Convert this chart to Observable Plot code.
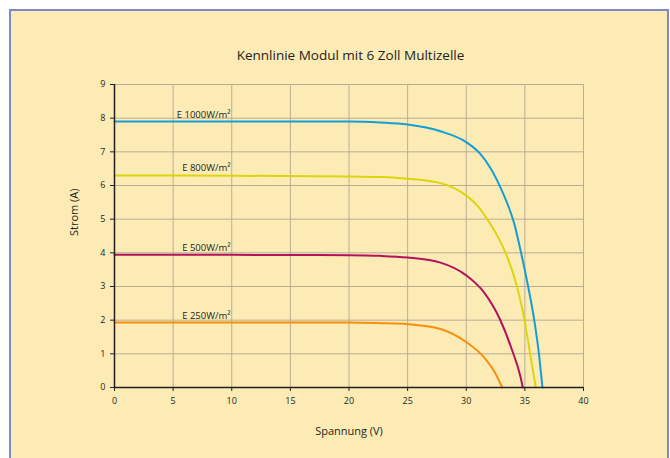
<!DOCTYPE html>
<html>
<head>
<meta charset="utf-8">
<script src="https://cdn.jsdelivr.net/npm/d3@7"></script>
<script src="https://cdn.jsdelivr.net/npm/@observablehq/plot@0.6"></script>
<style>
  html, body { margin: 0; padding: 0; background: #ffffff; width: 670px; height: 458px; overflow: hidden; }
  #panel { position: absolute; left: 9px; top: 9px; width: 656px; height: 470px;
           background: #fdebb6; border: 2px solid #7d88c9; }
  #chart { position: absolute; left: 0; top: 0; }
</style>
</head>
<body>
<div id="panel"></div>
<div id="chart"></div>
<script>
const title = "Kennlinie Modul mit 6 Zoll Multizelle";
const xLabel = "Spannung (V)";
const yLabel = "Strom (A)";
const xTicks = [0, 5, 10, 15, 20, 25, 30, 35, 40];
const yTicks = [0, 1, 2, 3, 4, 5, 6, 7, 8, 9];

const seriesNames = ["E 1000W/m²", "E 800W/m²", "E 500W/m²", "E 250W/m²"];
const seriesColors = ["#129fd6", "#dbd60b", "#b3125f", "#f5900b"];

const v1000 = [0, 10, 20, 22.7, 25, 27.8, 30, 31.2, 32.1, 33.0, 33.6, 34.1, 34.6, 35.25, 35.8, 36.2, 36.5];
const i1000 = [7.9, 7.9, 7.9, 7.87, 7.81, 7.61, 7.29, 6.94, 6.5, 5.88, 5.38, 4.86, 4.12, 3.05, 2.0, 1.0, 0];

const v800 = [0, 10, 20, 22.7, 25, 27.8, 30, 30.93, 31.79, 32.5, 33.29, 33.92, 34.49, 34.97, 35.45, 35.93];
const i800 = [6.3, 6.29, 6.27, 6.25, 6.2, 6.07, 5.7, 5.41, 5.0, 4.6, 4.05, 3.47, 2.78, 2.0, 1.0, 0];

const v500 = [0, 10, 20, 22.7, 25, 27.8, 30, 31.5, 32.92, 33.92, 34.63, 34.82];
const i500 = [3.94, 3.94, 3.93, 3.91, 3.86, 3.71, 3.33, 2.83, 1.99, 1.1, 0.31, 0];

const v250 = [0, 10, 20, 22.7, 25, 27.8, 30, 31.5, 32.5, 33.07];
const i250 = [1.93, 1.93, 1.93, 1.91, 1.88, 1.74, 1.35, 0.9, 0.41, 0];

const labelX = [9.9, 9.9, 9.9, 9.9];
const labelY = [7.9, 6.3, 3.94, 1.93];

const volts = [v1000, v800, v500, v250];
const amps = [i1000, i800, i500, i250];
const rows = [];
seriesNames.forEach((name, s) => {
  volts[s].forEach((v, k) => rows.push({series: name, V: v, I: amps[s][k]}));
});
const labels = seriesNames.map((name, s) => ({series: name, V: labelX[s], I: labelY[s]}));

const axisColor = "#231f20";
const gridColor = "#b9ae95";
const font = "'Open Sans', sans-serif";

const chart = Plot.plot({
  width: 670,
  height: 458,
  marginLeft: 114,
  marginRight: 87,
  marginTop: 84,
  marginBottom: 71,
  style: {background: "transparent", fontFamily: font, fontSize: "9px", color: axisColor},
  x: {domain: [0, 40]},
  y: {domain: [0, 9]},
  color: {domain: seriesNames, range: seriesColors},
  marks: [
    Plot.gridX(xTicks, {stroke: gridColor, strokeOpacity: 1, strokeWidth: 1}),
    Plot.gridY(yTicks, {stroke: gridColor, strokeOpacity: 1, strokeWidth: 1}),
    Plot.line(rows, {x: "V", y: "I", z: "series", stroke: "series", strokeWidth: 2, curve: "monotone-x"}),
    Plot.text(labels, {x: "V", y: "I", text: "series", textAnchor: "end", dy: -7, fill: axisColor, fontSize: 9.5}),
    Plot.axisX({ticks: xTicks, tickSize: 4, tickPadding: 6, label: null, stroke: axisColor, fontSize: 9}),
    Plot.axisY({ticks: yTicks, tickSize: 4, tickPadding: 5, label: null, stroke: axisColor, fontSize: 9}),
    Plot.ruleY([0], {stroke: axisColor, strokeWidth: 1.5}),
    Plot.ruleX([0], {stroke: axisColor, strokeWidth: 1.5}),
    Plot.text([xLabel], {frameAnchor: "bottom", dy: 47, fontSize: 11, fill: axisColor}),
    Plot.text([yLabel], {frameAnchor: "left", dx: -40, rotate: -90, fontSize: 11, fill: axisColor}),
    Plot.text([title], {frameAnchor: "top", dy: -34, dx: 1.5, fontSize: 13.5, fill: axisColor})
  ]
});
document.getElementById("chart").appendChild(chart);
</script>
</body>
</html>
